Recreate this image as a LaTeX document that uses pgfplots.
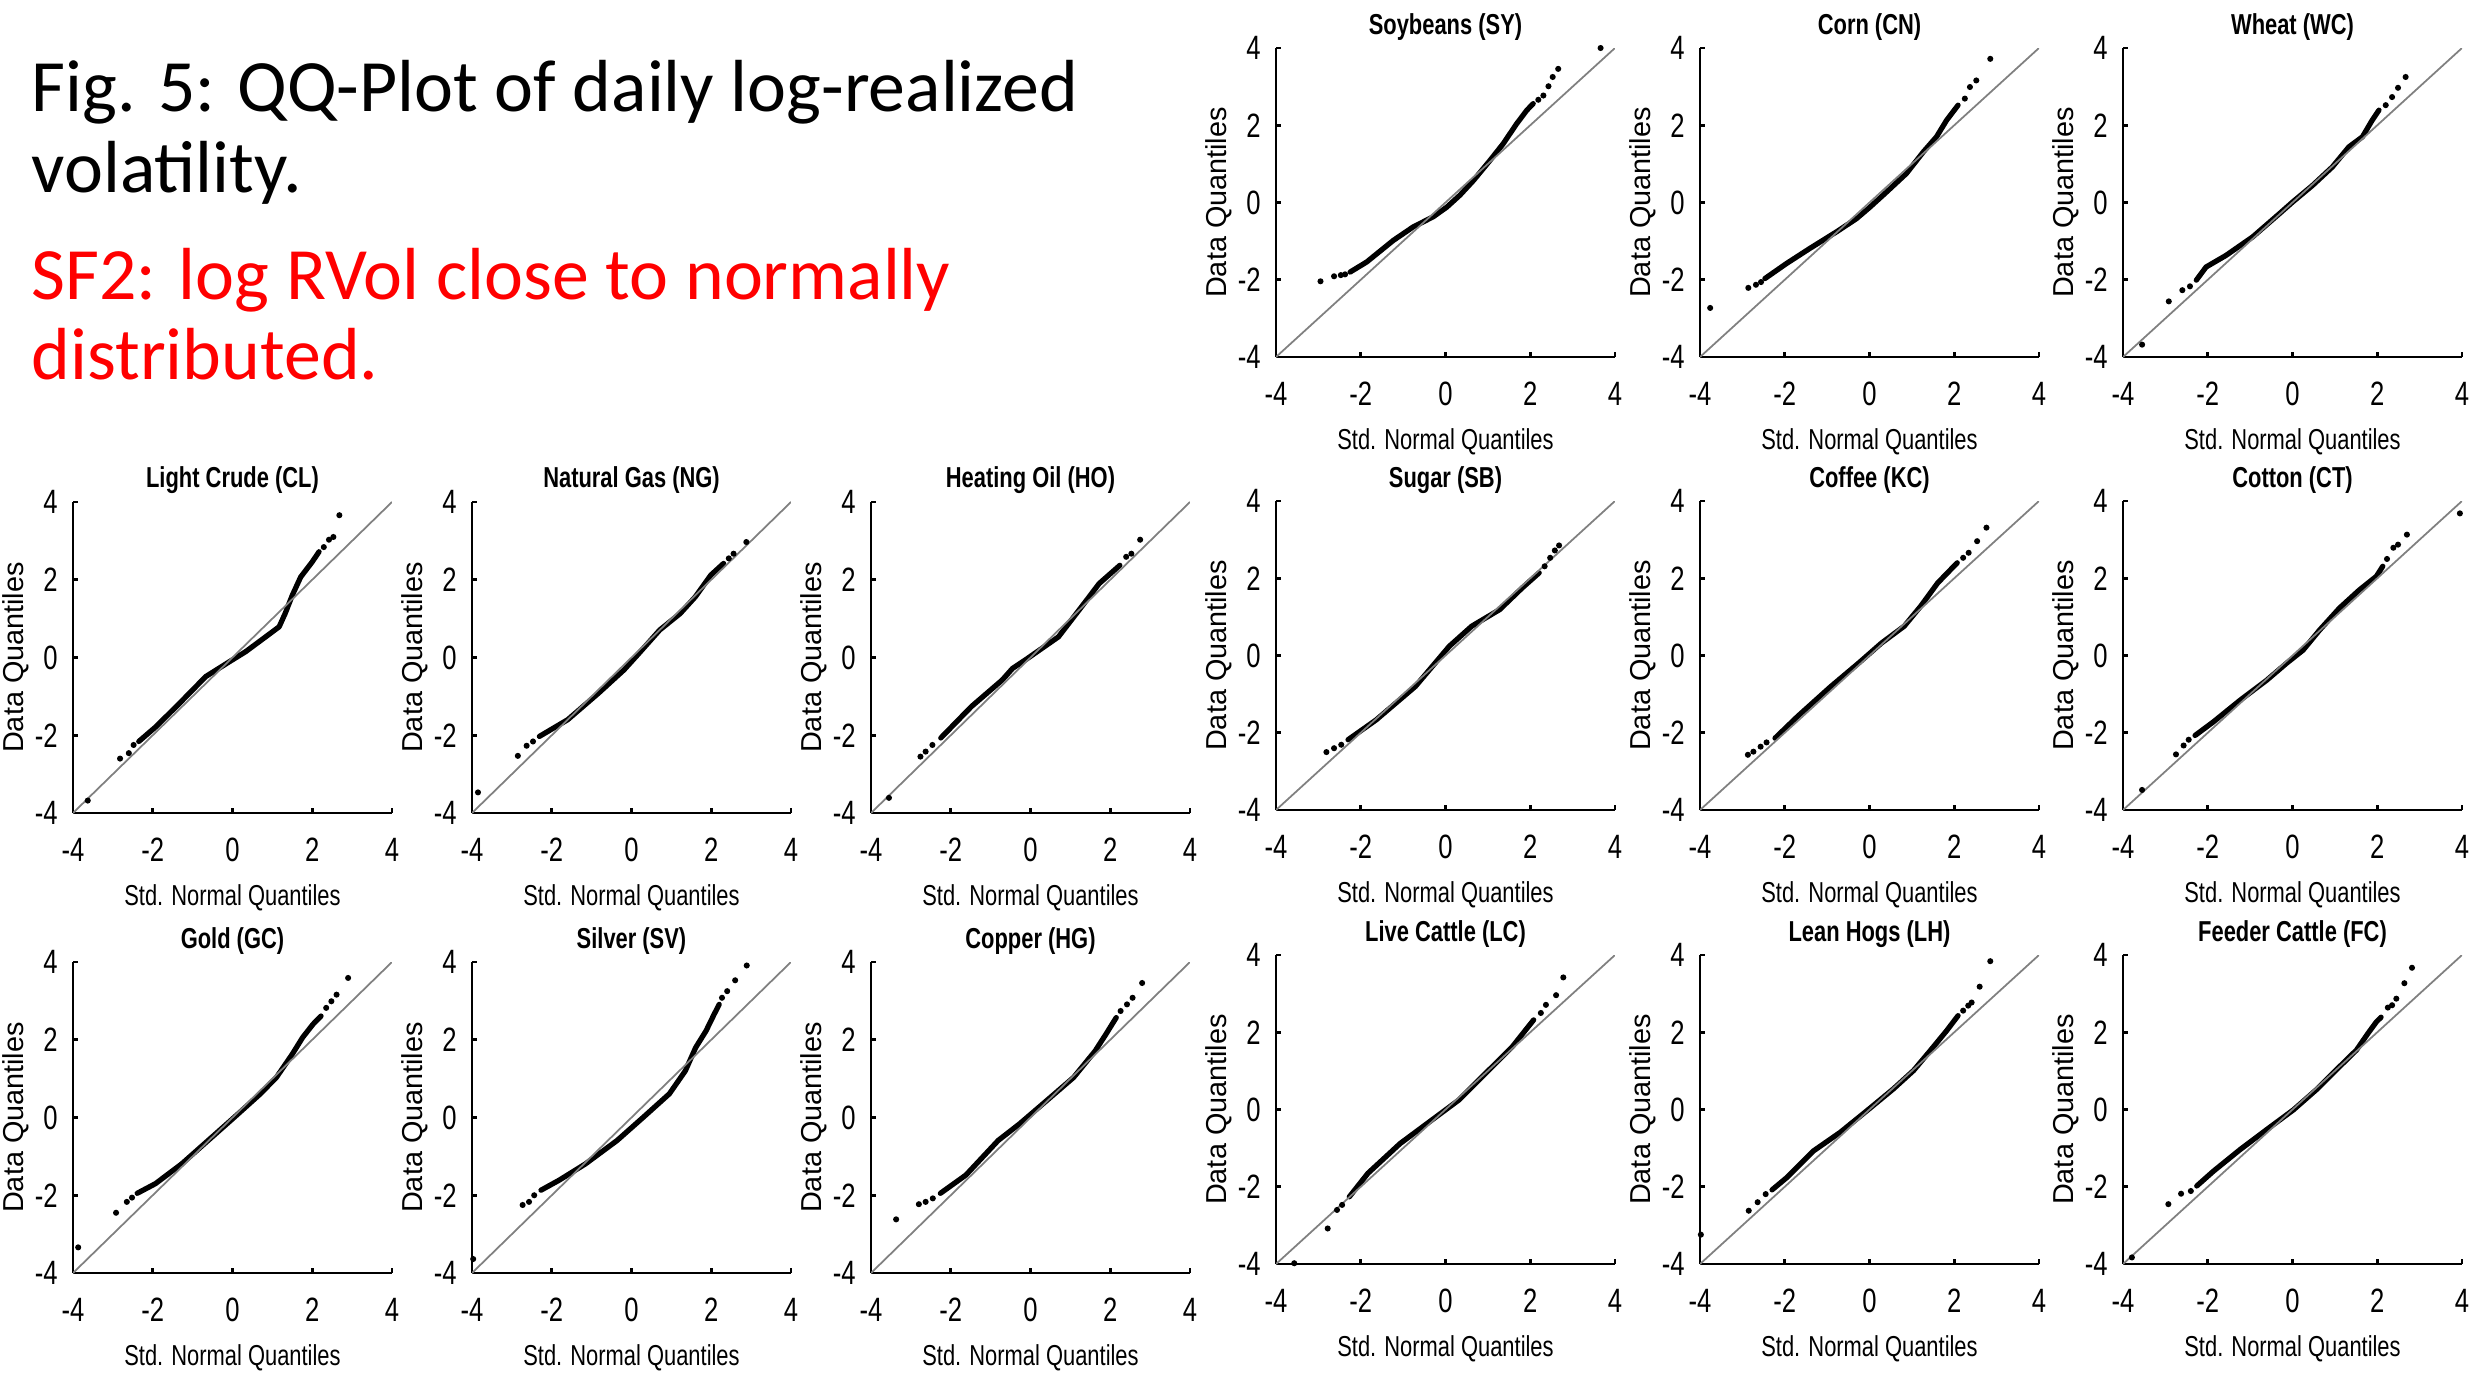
\documentclass[border=0pt]{standalone}
\usepackage{fontspec}
\usepackage{pgfplots}
\pgfplotsset{compat=1.18}
\setmainfont{Carlito}
\newfontfamily\pf[FakeStretch=0.76]{Liberation Sans}
\newfontfamily\yf{Liberation Sans}
\newcommand\tickf{\pf\fontsize{9.6}{11}\selectfont}
\newcommand\titlef{\pf\bfseries\fontsize{8.2}{9.5}\selectfont}
\newcommand\labf{\pf\fontsize{8.2}{9.5}\selectfont}
\newcommand\ylabf{\yf\fontsize{8.2}{9.5}\selectfont}

\pgfplotsset{
  qq/.style={
    scale only axis, anchor=south west,
    xmin=-4, xmax=4, ymin=-4, ymax=4,
    axis x line*=bottom, axis y line*=left,
    axis line style={-, black, line width=0.75pt},
    xtick={-4,-2,0,2,4}, ytick={-4,-2,0,2,4},
    xticklabels={-4,-2,0,2,4}, yticklabels={-4,-2,0,2,4},
    tick align=inside, major tick length=0.05cm,
    tick style={black, line width=0.75pt},
    tick label style={font=\tickf},
    xticklabel style={yshift=-0.13cm},
    yticklabel style={xshift=-0.03cm},
    every axis title shift=0pt,
    title style={font=\titlef, at={(axis description cs:0.5,1)}, anchor=base, yshift=0.14cm},
    xlabel={Std. Normal Quantiles},
    xlabel style={font=\labf, at={(axis description cs:0.5,0)}, anchor=base, yshift=-0.92cm},
    ylabel={Data Quantiles},
    ylabel style={font=\ylabf, at={([xshift=-0.57cm]axis description cs:0,0.5)}, anchor=center},
  },
  body/.style={black, line width=1.5pt, line join=round, line cap=round},
  tail/.style={black, only marks, mark=*, mark size=0.65pt},
  diag/.style={black!50, line width=0.5pt},
}

\begin{document}
\begin{tikzpicture}
\useasboundingbox (0,0) rectangle (24.71cm,13.73cm);

% headline text
\node[anchor=base west, inner sep=0, font=\fontsize{21}{25}\selectfont] at (0.31cm,12.61cm) {Fig. 5: QQ-Plot of daily log-realized};
\node[anchor=base west, inner sep=0, font=\fontsize{21}{25}\selectfont] at (0.31cm,11.80cm) {volatility.};
\node[anchor=base west, inner sep=0, font=\fontsize{21}{25}\selectfont, text={rgb,255:red,255;green,0;blue,0}] at (0.31cm,10.73cm) {SF2: log RVol close to normally};
\node[anchor=base west, inner sep=0, font=\fontsize{21}{25}\selectfont, text={rgb,255:red,255;green,0;blue,0}] at (0.31cm,9.93cm) {distributed.};

% ---- top row (right group) ----
\begin{axis}[qq, at={(12.76cm,10.16cm)}, width=3.39cm, height=3.09cm, title={Soybeans (SY)}]
\addplot[body] coordinates {(-2.25,-1.80) (-1.86,-1.54) (-1.23,-0.98) (-0.76,-0.63) (-0.29,-0.37) (0.03,-0.12) (0.34,0.19) (0.66,0.57) (1.05,1.09) (1.36,1.52) (1.52,1.78) (1.68,2.04) (1.92,2.39) (2.07,2.56)};
\addplot[tail] coordinates {(-2.95,-2.04) (-2.63,-1.91) (-2.47,-1.88) (-2.37,-1.86) (2.19,2.66) (2.31,2.77) (2.43,3.01) (2.53,3.25) (2.66,3.46) (3.66,4.00)};
\addplot[diag] coordinates {(-4,-4) (4,4)};
\end{axis}

\begin{axis}[qq, at={(17.00cm,10.16cm)}, width=3.39cm, height=3.09cm, title={Corn (CN)}]
\addplot[body] coordinates {(-2.47,-1.97) (-1.96,-1.58) (-1.41,-1.19) (-0.78,-0.76) (-0.31,-0.42) (0.01,-0.12) (0.40,0.27) (0.87,0.75) (1.27,1.31) (1.58,1.70) (1.82,2.13) (2.09,2.52)};
\addplot[tail] coordinates {(-3.76,-2.73) (-2.86,-2.21) (-2.68,-2.13) (-2.56,-2.06) (2.25,2.69) (2.37,2.99) (2.52,3.16) (2.85,3.72)};
\addplot[diag] coordinates {(-4,-4) (4,4)};
\end{axis}

\begin{axis}[qq, at={(21.23cm,10.16cm)}, width=3.39cm, height=3.09cm, title={Wheat (WC)}]
\addplot[body] coordinates {(-2.27,-2.01) (-2.04,-1.67) (-1.57,-1.37) (-0.94,-0.89) (-0.31,-0.29) (0,0.01) (0.47,0.44) (0.94,0.92) (1.33,1.44) (1.65,1.70) (1.88,2.13) (2.04,2.39)};
\addplot[tail] coordinates {(-3.55,-3.68) (-2.92,-2.56) (-2.60,-2.27) (-2.42,-2.17) (2.20,2.52) (2.35,2.73) (2.49,2.97) (2.67,3.25)};
\addplot[diag] coordinates {(-4,-4) (4,4)};
\end{axis}

% ---- middle row ----
\begin{axis}[qq, at={(0.73cm,5.60cm)}, width=3.19cm, height=3.11cm, title={Light Crude (CL)}]
\addplot[body] coordinates {(-2.35,-2.16) (-1.92,-1.78) (-1.33,-1.18) (-0.67,-0.49) (-0.08,-0.11) (0.33,0.15) (0.83,0.53) (1.17,0.79) (1.32,1.13) (1.50,1.60) (1.71,2.07) (2.00,2.46) (2.17,2.72)};
\addplot[tail] coordinates {(-3.63,-3.68) (-2.82,-2.60) (-2.60,-2.46) (-2.48,-2.25) (2.29,2.84) (2.42,3.03) (2.53,3.10) (2.68,3.66)};
\addplot[diag] coordinates {(-4,-4) (4,4)};
\end{axis}

\begin{axis}[qq, at={(4.72cm,5.60cm)}, width=3.19cm, height=3.11cm, title={Natural Gas (NG)}]
\addplot[body] coordinates {(-2.31,-2.03) (-1.60,-1.60) (-0.83,-0.92) (-0.19,-0.32) (0.19,0.11) (0.71,0.71) (1.22,1.13) (1.60,1.56) (1.99,2.12) (2.31,2.42)};
\addplot[tail] coordinates {(-3.85,-3.47) (-2.85,-2.53) (-2.63,-2.27) (-2.47,-2.16) (2.44,2.55) (2.56,2.67) (2.88,2.97)};
\addplot[diag] coordinates {(-4,-4) (4,4)};
\end{axis}

\begin{axis}[qq, at={(8.71cm,5.60cm)}, width=3.19cm, height=3.11cm, title={Heating Oil (HO)}]
\addplot[body] coordinates {(-2.25,-2.07) (-1.48,-1.26) (-0.71,-0.58) (-0.45,-0.28) (-0.07,-0.02) (0.70,0.53) (1.15,1.13) (1.47,1.56) (1.72,1.90) (2.24,2.37)};
\addplot[tail] coordinates {(-3.55,-3.61) (-2.76,-2.55) (-2.63,-2.42) (-2.46,-2.25) (2.40,2.59) (2.53,2.67) (2.75,3.03)};
\addplot[diag] coordinates {(-4,-4) (4,4)};
\end{axis}

\begin{axis}[qq, at={(12.76cm,5.63cm)}, width=3.39cm, height=3.09cm, title={Sugar (SB)}]
\addplot[body] coordinates {(-2.30,-2.18) (-1.64,-1.67) (-0.71,-0.80) (-0.31,-0.28) (0.09,0.24) (0.62,0.76) (1.28,1.19) (1.81,1.75) (2.21,2.14)};
\addplot[tail] coordinates {(-2.81,-2.50) (-2.63,-2.40) (-2.46,-2.31) (2.34,2.31) (2.47,2.53) (2.58,2.72) (2.68,2.85)};
\addplot[diag] coordinates {(-4,-4) (4,4)};
\end{axis}

\begin{axis}[qq, at={(17.00cm,5.63cm)}, width=3.39cm, height=3.09cm, title={Coffee (KC)}]
\addplot[body] coordinates {(-2.23,-2.14) (-1.70,-1.58) (-0.91,-0.80) (-0.25,-0.19) (0.28,0.32) (0.82,0.76) (1.21,1.28) (1.61,1.88) (2.07,2.40)};
\addplot[tail] coordinates {(-2.87,-2.57) (-2.74,-2.49) (-2.57,-2.36) (-2.43,-2.25) (2.21,2.53) (2.34,2.66) (2.54,2.96) (2.76,3.31)};
\addplot[diag] coordinates {(-4,-4) (4,4)};
\end{axis}

\begin{axis}[qq, at={(21.23cm,5.63cm)}, width=3.39cm, height=3.09cm, title={Cotton (CT)}]
\addplot[body] coordinates {(-2.30,-2.07) (-1.87,-1.72) (-1.24,-1.16) (-0.61,-0.64) (-0.14,-0.20) (0.25,0.14) (0.64,0.66) (1.11,1.23) (1.58,1.70) (1.98,2.05) (2.13,2.31)};
\addplot[tail] coordinates {(-3.55,-3.48) (-2.75,-2.56) (-2.57,-2.33) (-2.45,-2.18) (2.23,2.50) (2.38,2.79) (2.49,2.87) (2.70,3.13) (3.95,3.68)};
\addplot[diag] coordinates {(-4,-4) (4,4)};
\end{axis}

% ---- bottom row ----
\begin{axis}[qq, at={(0.73cm,1.00cm)}, width=3.19cm, height=3.11cm, title={Gold (GC)}]
\addplot[body] coordinates {(-2.39,-1.95) (-1.93,-1.70) (-1.27,-1.19) (-0.61,-0.59) (0.05,0.01) (0.70,0.61) (1.10,1.03) (1.50,1.63) (1.76,2.06) (2.02,2.40) (2.22,2.61)};
\addplot[tail] coordinates {(-3.87,-3.34) (-2.92,-2.45) (-2.65,-2.17) (-2.52,-2.06) (2.35,2.82) (2.48,2.99) (2.61,3.16) (2.90,3.59)};
\addplot[diag] coordinates {(-4,-4) (4,4)};
\end{axis}

\begin{axis}[qq, at={(4.72cm,1.00cm)}, width=3.19cm, height=3.11cm, title={Silver (SV)}]
\addplot[body] coordinates {(-2.27,-1.87) (-1.81,-1.61) (-1.15,-1.19) (-0.36,-0.59) (0.30,0.01) (0.95,0.61) (1.35,1.20) (1.61,1.80) (1.87,2.23) (2.07,2.65) (2.20,2.91)};
\addplot[tail] coordinates {(-3.97,-3.64) (-2.73,-2.25) (-2.57,-2.17) (-2.44,-2.00) (2.27,3.08) (2.40,3.25) (2.60,3.53) (2.89,3.91)};
\addplot[diag] coordinates {(-4,-4) (4,4)};
\end{axis}

\begin{axis}[qq, at={(8.71cm,1.00cm)}, width=3.19cm, height=3.11cm, title={Copper (HG)}]
\addplot[body] coordinates {(-2.26,-1.95) (-1.62,-1.48) (-0.81,-0.59) (-0.27,-0.16) (0.40,0.43) (1.08,1.03) (1.62,1.71) (1.89,2.14) (2.15,2.57)};
\addplot[tail] coordinates {(-3.37,-2.62) (-2.80,-2.23) (-2.63,-2.17) (-2.45,-2.08) (2.26,2.74) (2.42,2.91) (2.56,3.08) (2.80,3.46)};
\addplot[diag] coordinates {(-4,-4) (4,4)};
\end{axis}

\begin{axis}[qq, at={(12.76cm,1.09cm)}, width=3.39cm, height=3.09cm, title={Live Cattle (LC)}]
\addplot[body] coordinates {(-2.27,-2.26) (-1.83,-1.65) (-1.07,-0.88) (-0.32,-0.27) (0.32,0.25) (0.95,0.94) (1.58,1.63) (2.08,2.32)};
\addplot[tail] coordinates {(-3.57,-3.98) (-2.78,-3.08) (-2.56,-2.60) (-2.44,-2.47) (2.25,2.50) (2.37,2.71) (2.61,2.96) (2.78,3.42)};
\addplot[diag] coordinates {(-4,-4) (4,4)};
\end{axis}

\begin{axis}[qq, at={(17.00cm,1.09cm)}, width=3.39cm, height=3.09cm, title={Lean Hogs (LH)}]
\addplot[body] coordinates {(-2.30,-2.08) (-1.95,-1.76) (-1.32,-1.07) (-0.69,-0.59) (-0.06,-0.03) (0.56,0.53) (1.04,1.01) (1.43,1.52) (1.82,2.04) (2.09,2.43)};
\addplot[tail] coordinates {(-3.98,-3.24) (-2.85,-2.62) (-2.64,-2.40) (-2.45,-2.19) (2.21,2.56) (2.33,2.69) (2.41,2.77) (2.60,3.18) (2.85,3.84)};
\addplot[diag] coordinates {(-4,-4) (4,4)};
\end{axis}

\begin{axis}[qq, at={(21.23cm,1.09cm)}, width=3.39cm, height=3.09cm, title={Feeder Cattle (FC)}]
\addplot[body] coordinates {(-2.26,-1.98) (-1.87,-1.60) (-1.24,-1.04) (-0.61,-0.52) (0.02,-0.01) (0.56,0.51) (1.11,1.11) (1.51,1.54) (1.78,1.97) (1.98,2.27) (2.09,2.39)};
\addplot[tail] coordinates {(-3.79,-3.83) (-2.93,-2.45) (-2.63,-2.18) (-2.40,-2.11) (2.25,2.64) (2.35,2.70) (2.45,2.87) (2.64,3.27) (2.82,3.67)};
\addplot[diag] coordinates {(-4,-4) (4,4)};
\end{axis}
\end{tikzpicture}
\end{document}
